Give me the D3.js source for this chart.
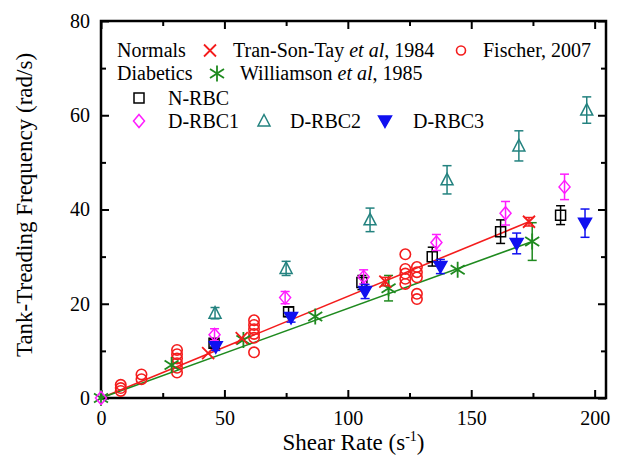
<!DOCTYPE html>
<head>
  <meta charset="utf-8">
  <script src="https://d3js.org/d3.v7.min.js"></script>
  <style>
    body { margin:0; background-color:#fff; }
    svg { display:block; font-family:"Liberation Serif","Times New Roman",serif; }
    .axis text { font-family:"Liberation Serif","Times New Roman",serif; font-size:20px; fill:#000; }
    .axis line { stroke:#000; stroke-width:2px; }
    .axis path { display:none; }
  </style>
</head>
<body>
<div class="chart-container"></div>
<script>
// ---- data ----
var xTicks = [0, 50, 100, 150, 200];
var yTicks = [0, 20, 40, 60, 80];
var xMinor = [25, 75, 125, 175];
var yMinor = [10, 30, 50, 70];

// Normals: Tran-Son-Tay et al, 1984 (red X)
var tranX   = [43.4, 57.0, 115.2, 173.4];
var tranY   = [9.5, 12.7, 24.7, 37.4];
var tranErr = [0, 0, 0.9, 0.9];

// Normals: Fischer, 2007 (red circles)
var fischerX = [8, 8, 8, 16.4, 16.4, 30.8, 30.8, 30.8, 30.8, 30.8, 30.8,
                62, 62, 62, 62, 62, 62, 123.3, 123.3, 123.3, 123.3, 123.3,
                128, 128, 128, 128, 128];
var fischerY = [1.5, 2.1, 2.8, 4.0, 5.0, 5.4, 6.4, 7.4, 8.4, 9.3, 10.2,
                9.7, 12.8, 13.6, 14.6, 15.5, 16.5, 24.2, 25.3, 26.4, 27.4, 30.5,
                21.0, 22.1, 25.6, 26.7, 27.8];

// Diabetics: Williamson et al, 1985 (green asterisks)
var willX   = [0, 28.6, 57.7, 86.8, 116.5, 144.5, 174.7];
var willY   = [0, 7.0, 12.3, 17.3, 23.3, 27.2, 33.2];
var willErr = [0, 0, 0, 0, 2.7, 0, 4.0];

// linear fits
var fitRedX = [0, 173.4];
var fitRedY = [0, 37.4];
var fitGreenX = [0, 174.7];
var fitGreenY = [0, 33.2];

// N-RBC (black squares)
var nrbcX   = [45.8, 76, 105.7, 134.2, 161.9, 186.2];
var nrbcY   = [11.6, 18.3, 24.5, 30.0, 35.3, 38.8];
var nrbcErr = [0.8, 1.0, 1.5, 2.0, 2.5, 2.0];

// D-RBC1 (magenta diamonds)
var d1X   = [0, 46, 74.6, 106.4, 135.9, 163.9, 187.8];
var d1Y   = [0, 13.4, 21.3, 25.7, 33.0, 39.2, 44.8];
var d1Err = [0, 1.3, 1.3, 1.5, 1.7, 2.5, 2.7];

// D-RBC2 (teal triangles)
var d2X   = [46.2, 75, 109, 140.2, 169.3, 196.8];
var d2Y   = [18.0, 27.5, 37.8, 46.3, 53.5, 61.1];
var d2Err = [1.2, 1.5, 2.5, 3.0, 3.2, 2.8];

// D-RBC3 (blue filled down triangles)
var d3X   = [46.5, 77, 107, 137.5, 168.4, 196.1];
var d3Y   = [10.9, 17.1, 22.6, 27.9, 32.8, 37.1];
var d3Err = [0.8, 1.0, 1.5, 1.5, 2.2, 3.0];

var RED = "#f41c1c", GREEN = "#1f8a1f", TEAL = "#23827f", MAGENTA = "#ff1cff", BLUE = "#1010f0";

var W = 618, H = 457;
var padL = 101, padR = 606, padT = 21, padB = 398;

var svg = d3.select(".chart-container").append("svg")
  .attr("width", W)
  .attr("height", H);

var xScale = d3.scaleLinear().domain([0, 204.6]).range([padL, padR]);
var yScale = d3.scaleLinear().domain([0, 80]).range([padB, padT]);

function zip(xs, ys, es) {
  return xs.map(function (v, i) { return { x: v, y: ys[i], e: es ? es[i] : 0 }; });
}

// marker shapes
function shape(kind) {
  switch (kind) {
    case "square": return "M-5,-5H5V5H-5Z";
    case "diamond": return "M0,-6.5L5.5,0L0,6.5L-5.5,0Z";
    case "up": return "M0,-6.5L6,5H-6Z";
    case "down": return "M0,6.5L6.5,-5H-6.5Z";
    case "x": return "M-6,-6L6,6M6,-6L-6,6";
    case "star": return "M0,-8V8M-7,-4.5L7,4.5M-7,4.5L7,-4.5";
  }
}

// ---- axes ----
function ax(gen, scale, vals, size, labels, pad) {
  return gen(scale).tickValues(vals).tickSizeInner(size).tickSizeOuter(0)
    .tickPadding(pad || 0)
    .tickFormat(labels ? d3.format("d") : "");
}

svg.append("g").attr("class", "axis").attr("transform", "translate(0," + padB + ")")
  .call(ax(d3.axisBottom, xScale, xTicks, -8, true, 13));
svg.append("g").attr("class", "axis").attr("transform", "translate(0," + padB + ")")
  .call(ax(d3.axisBottom, xScale, xMinor, -5, false));
svg.append("g").attr("class", "axis").attr("transform", "translate(0," + padT + ")")
  .call(ax(d3.axisTop, xScale, xTicks, -8, false));
svg.append("g").attr("class", "axis").attr("transform", "translate(0," + padT + ")")
  .call(ax(d3.axisTop, xScale, xMinor, -5, false));

svg.append("g").attr("class", "axis").attr("transform", "translate(" + padL + ",0)")
  .call(ax(d3.axisLeft, yScale, yTicks, -8, true, 11));
svg.append("g").attr("class", "axis").attr("transform", "translate(" + padL + ",0)")
  .call(ax(d3.axisLeft, yScale, yMinor, -5, false));
svg.append("g").attr("class", "axis").attr("transform", "translate(" + padR + ",0)")
  .call(ax(d3.axisRight, yScale, yTicks, -8, false));
svg.append("g").attr("class", "axis").attr("transform", "translate(" + padR + ",0)")
  .call(ax(d3.axisRight, yScale, yMinor, -5, false));

svg.append("rect")
  .attr("x", padL).attr("y", padT)
  .attr("width", padR - padL).attr("height", padB - padT)
  .attr("fill", "none").attr("stroke", "#000").attr("stroke-width", 2.5);

// ---- axis titles ----
var xt = svg.append("text")
  .attr("x", (padL + padR) / 2).attr("y", 450)
  .attr("text-anchor", "middle").attr("font-size", 23);
xt.append("tspan").text("Shear Rate (s");
xt.append("tspan").attr("font-size", 14).attr("dy", -9).text("-1");
xt.append("tspan").attr("dy", 9).text(")");

svg.append("text")
  .attr("transform", "translate(32,205) rotate(-90)")
  .attr("text-anchor", "middle").attr("font-size", 23)
  .text("Tank-Treading Frequency (rad/s)");

// ---- fit lines ----
var line = d3.line().x(function (d) { return xScale(d.x); }).y(function (d) { return yScale(d.y); });
svg.append("path").datum(zip(fitRedX, fitRedY))
  .attr("d", line).attr("fill", "none").attr("stroke", RED).attr("stroke-width", 1.6);
svg.append("path").datum(zip(fitGreenX, fitGreenY))
  .attr("d", line).attr("fill", "none").attr("stroke", GREEN).attr("stroke-width", 1.6);

// ---- series ----
function drawSeries(data, kind, color, filled) {
  var g = svg.append("g");
  var withErr = data.filter(function (d) { return d.e > 0; });
  g.selectAll("line.eb").data(withErr).enter().append("line")
    .attr("x1", function (d) { return xScale(d.x); })
    .attr("x2", function (d) { return xScale(d.x); })
    .attr("y1", function (d) { return yScale(d.y - d.e); })
    .attr("y2", function (d) { return yScale(d.y + d.e); })
    .attr("stroke", color).attr("stroke-width", 1.5);
  [1, -1].forEach(function (s) {
    g.selectAll("line.cap" + s).data(withErr).enter().append("line")
      .attr("x1", function (d) { return xScale(d.x) - 4.5; })
      .attr("x2", function (d) { return xScale(d.x) + 4.5; })
      .attr("y1", function (d) { return yScale(d.y + s * d.e); })
      .attr("y2", function (d) { return yScale(d.y + s * d.e); })
      .attr("stroke", color).attr("stroke-width", 1.5);
  });
  if (kind === "circle") {
    g.selectAll("circle").data(data).enter().append("circle")
      .attr("cx", function (d) { return xScale(d.x); })
      .attr("cy", function (d) { return yScale(d.y); })
      .attr("r", 5.2).attr("fill", "none").attr("stroke", color).attr("stroke-width", 1.6);
  } else {
    g.selectAll("path").data(data).enter().append("path")
      .attr("transform", function (d) { return "translate(" + xScale(d.x) + "," + yScale(d.y) + ")"; })
      .attr("d", shape(kind))
      .attr("fill", filled ? color : "none")
      .attr("stroke", color).attr("stroke-width", kind === "x" || kind === "star" ? 1.8 : 1.5);
  }
}

drawSeries(zip(fischerX, fischerY), "circle", RED);
drawSeries(zip(willX, willY, willErr), "star", GREEN);
drawSeries(zip(tranX, tranY, tranErr), "x", RED);
drawSeries(zip(nrbcX, nrbcY, nrbcErr), "square", "#000");
drawSeries(zip(d2X, d2Y, d2Err), "up", TEAL);
drawSeries(zip(d1X, d1Y, d1Err), "diamond", MAGENTA);
drawSeries(zip(d3X, d3Y, d3Err), "down", BLUE, true);

// ---- legend ----
var lg = svg.append("g").attr("font-size", 20);
function legText(x, y, parts) {
  var t = lg.append("text").attr("x", x).attr("y", y);
  parts.forEach(function (p) {
    t.append("tspan").attr("font-style", p[1] ? "italic" : "normal").text(p[0]);
  });
}
function legMark(x, y, kind, color, filled) {
  if (kind === "circle") {
    lg.append("circle").attr("cx", x).attr("cy", y).attr("r", 4.5)
      .attr("fill", "none").attr("stroke", color).attr("stroke-width", 1.6);
  } else {
    lg.append("path").attr("transform", "translate(" + x + "," + y + ")")
      .attr("d", shape(kind)).attr("fill", filled ? color : "none")
      .attr("stroke", color).attr("stroke-width", kind === "x" || kind === "star" ? 1.8 : 1.5);
  }
}
legText(117, 57, [["Normals"]]);
legMark(210, 50.5, "x", RED);
legText(233, 57, [["Tran-Son-Tay "], ["et al", true], [", 1984"]]);
legMark(461, 50.5, "circle", RED);
legText(483, 57, [["Fischer, 2007"]]);
legText(117, 80, [["Diabetics"]]);
legMark(217, 73.5, "star", GREEN);
legText(240, 80, [["Williamson "], ["et al", true], [", 1985"]]);
legMark(139, 98, "square", "#000");
legText(168, 105, [["N-RBC"]]);
legMark(139, 121, "diamond", MAGENTA);
legText(168, 128, [["D-RBC1"]]);
legMark(264, 121, "up", TEAL);
legText(290, 128, [["D-RBC2"]]);
legMark(385, 121, "down", BLUE, true);
legText(413, 128, [["D-RBC3"]]);
</script>
</body>
